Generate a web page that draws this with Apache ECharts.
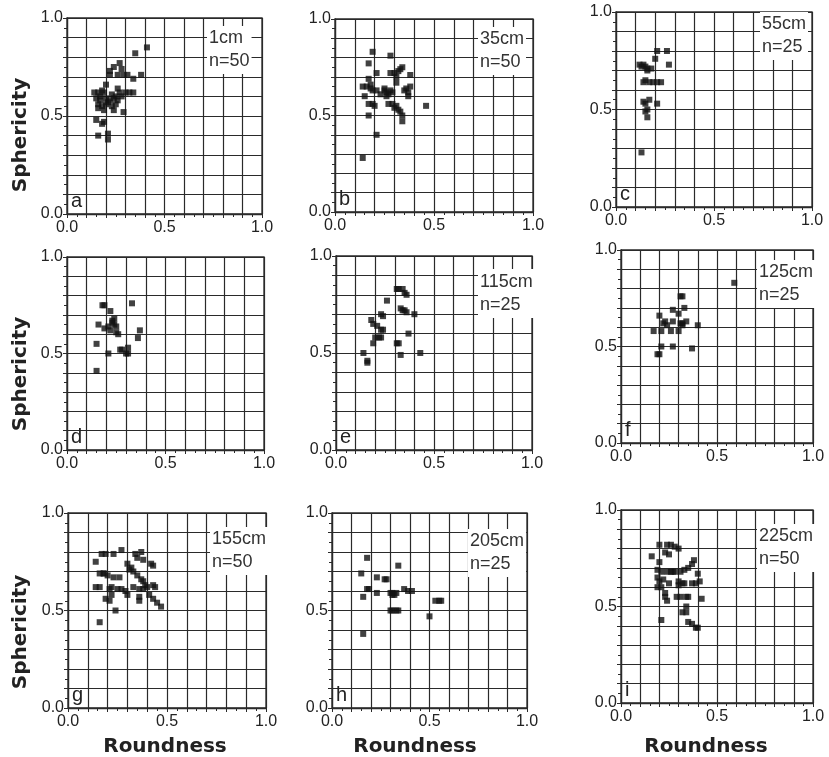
<!DOCTYPE html>
<html><head><meta charset="utf-8">
<script src="https://cdn.jsdelivr.net/npm/echarts@6/dist/echarts.min.js"></script>
<style>html,body{margin:0;padding:0;background:#fff}#c{width:829px;height:757px}</style>
</head><body><div id="c"></div>
<script>
// ---- data (roundness, sphericity) ----
const panelLetters = ['a','b','c','d','e','f','g','h','i'];
const depths = ['1cm','35cm','55cm','105cm','115cm','125cm','155cm','205cm','225cm'];
const counts = ['n=50','n=50','n=25','n=25','n=25','n=25','n=50','n=25','n=50'];
const tickLabels = ['0.0','0.5','1.0'];
const xName = 'Roundness';
const yName = 'Sphericity';

const ptsA = [[0.41,0.85],[0.35,0.82],[0.24,0.75],[0.27,0.77],[0.28,0.74],[0.22,0.71],[0.22,0.73],[0.26,0.71],[0.29,0.71],[0.31,0.71],[0.34,0.69],[0.38,0.71],[0.14,0.62],[0.16,0.62],[0.18,0.63],[0.19,0.62],[0.26,0.64],[0.27,0.62],[0.30,0.62],[0.32,0.62],[0.34,0.62],[0.15,0.59],[0.17,0.58],[0.20,0.59],[0.22,0.58],[0.24,0.59],[0.26,0.58],[0.16,0.56],[0.18,0.55],[0.20,0.56],[0.23,0.55],[0.25,0.56],[0.16,0.54],[0.19,0.53],[0.24,0.53],[0.29,0.52],[0.21,0.57],[0.17,0.60],[0.23,0.61],[0.25,0.60],[0.15,0.48],[0.19,0.47],[0.18,0.46],[0.16,0.40],[0.21,0.41],[0.21,0.38],[0.20,0.66],[0.28,0.60]];
const ptsB = [[0.19,0.83],[0.28,0.81],[0.17,0.77],[0.21,0.72],[0.17,0.69],[0.28,0.72],[0.30,0.72],[0.32,0.73],[0.33,0.74],[0.34,0.75],[0.31,0.67],[0.38,0.71],[0.31,0.70],[0.14,0.65],[0.16,0.65],[0.18,0.66],[0.19,0.63],[0.21,0.63],[0.18,0.64],[0.25,0.63],[0.26,0.62],[0.27,0.61],[0.28,0.63],[0.25,0.64],[0.26,0.60],[0.36,0.64],[0.38,0.65],[0.37,0.62],[0.37,0.60],[0.35,0.63],[0.17,0.56],[0.19,0.56],[0.20,0.55],[0.27,0.56],[0.29,0.56],[0.31,0.55],[0.32,0.53],[0.33,0.52],[0.30,0.54],[0.34,0.50],[0.17,0.50],[0.34,0.47],[0.21,0.40],[0.14,0.28],[0.46,0.55],[0.29,0.62],[0.23,0.61],[0.15,0.60]];
const ptsC = [[0.21,0.80],[0.26,0.80],[0.20,0.76],[0.27,0.73],[0.12,0.73],[0.14,0.73],[0.15,0.72],[0.16,0.71],[0.18,0.71],[0.13,0.72],[0.16,0.70],[0.14,0.64],[0.15,0.65],[0.19,0.64],[0.21,0.64],[0.23,0.64],[0.17,0.55],[0.14,0.54],[0.15,0.53],[0.21,0.53],[0.15,0.49],[0.16,0.50],[0.16,0.46],[0.13,0.28],[0.17,0.64]];
const ptsD = [[0.18,0.75],[0.19,0.75],[0.33,0.76],[0.22,0.72],[0.24,0.68],[0.23,0.66],[0.24,0.65],[0.25,0.64],[0.16,0.65],[0.19,0.63],[0.21,0.64],[0.25,0.61],[0.26,0.60],[0.37,0.62],[0.36,0.58],[0.15,0.55],[0.27,0.52],[0.28,0.52],[0.31,0.53],[0.21,0.50],[0.30,0.50],[0.31,0.50],[0.15,0.41],[0.22,0.62],[0.23,0.67]];
const ptsE = [[0.31,0.83],[0.32,0.83],[0.34,0.83],[0.35,0.81],[0.36,0.80],[0.26,0.77],[0.33,0.73],[0.34,0.72],[0.35,0.72],[0.36,0.71],[0.40,0.70],[0.23,0.70],[0.24,0.69],[0.18,0.67],[0.19,0.65],[0.21,0.64],[0.23,0.62],[0.24,0.62],[0.20,0.58],[0.22,0.58],[0.23,0.58],[0.19,0.55],[0.37,0.60],[0.31,0.55],[0.32,0.55],[0.14,0.50],[0.33,0.49],[0.43,0.50],[0.16,0.46],[0.16,0.45]];
const ptsF = [[0.59,0.83],[0.31,0.76],[0.32,0.76],[0.33,0.70],[0.27,0.69],[0.30,0.67],[0.20,0.66],[0.22,0.62],[0.23,0.63],[0.24,0.61],[0.27,0.63],[0.31,0.62],[0.32,0.62],[0.34,0.63],[0.32,0.61],[0.40,0.61],[0.17,0.58],[0.21,0.58],[0.26,0.58],[0.30,0.58],[0.21,0.50],[0.27,0.50],[0.19,0.46],[0.20,0.46],[0.37,0.49]];
const ptsG = [[0.27,0.81],[0.17,0.79],[0.19,0.79],[0.23,0.79],[0.14,0.75],[0.34,0.79],[0.37,0.80],[0.35,0.77],[0.38,0.76],[0.30,0.74],[0.32,0.72],[0.42,0.74],[0.43,0.73],[0.16,0.69],[0.18,0.69],[0.20,0.68],[0.23,0.67],[0.26,0.67],[0.33,0.70],[0.35,0.68],[0.37,0.66],[0.38,0.65],[0.14,0.62],[0.16,0.62],[0.22,0.62],[0.21,0.61],[0.27,0.61],[0.29,0.60],[0.33,0.62],[0.36,0.61],[0.38,0.61],[0.40,0.62],[0.43,0.63],[0.44,0.62],[0.19,0.56],[0.21,0.55],[0.22,0.58],[0.30,0.58],[0.36,0.57],[0.36,0.55],[0.41,0.58],[0.43,0.56],[0.45,0.54],[0.47,0.52],[0.24,0.50],[0.16,0.44],[0.18,0.69],[0.25,0.61],[0.39,0.63],[0.31,0.71]];
const ptsH = [[0.18,0.77],[0.15,0.69],[0.34,0.73],[0.23,0.67],[0.27,0.66],[0.28,0.66],[0.18,0.61],[0.19,0.61],[0.23,0.59],[0.16,0.57],[0.30,0.59],[0.31,0.59],[0.33,0.59],[0.32,0.58],[0.31,0.58],[0.37,0.61],[0.39,0.60],[0.41,0.60],[0.30,0.50],[0.31,0.50],[0.33,0.50],[0.34,0.50],[0.53,0.55],[0.55,0.55],[0.56,0.55],[0.50,0.47],[0.16,0.38]];
const ptsI = [[0.20,0.82],[0.24,0.82],[0.26,0.82],[0.28,0.81],[0.30,0.80],[0.16,0.76],[0.23,0.78],[0.25,0.77],[0.20,0.73],[0.19,0.69],[0.21,0.68],[0.24,0.68],[0.26,0.68],[0.28,0.68],[0.31,0.68],[0.33,0.69],[0.35,0.70],[0.37,0.72],[0.38,0.74],[0.40,0.67],[0.19,0.65],[0.20,0.63],[0.19,0.60],[0.21,0.60],[0.25,0.62],[0.30,0.63],[0.32,0.62],[0.33,0.62],[0.37,0.62],[0.39,0.62],[0.41,0.63],[0.30,0.61],[0.23,0.57],[0.23,0.55],[0.24,0.53],[0.29,0.55],[0.31,0.55],[0.34,0.55],[0.35,0.55],[0.42,0.54],[0.32,0.47],[0.34,0.47],[0.34,0.50],[0.35,0.42],[0.37,0.41],[0.39,0.39],[0.40,0.39],[0.21,0.43],[0.27,0.68],[0.22,0.64]];

const allPts = [ptsA,ptsB,ptsC,ptsD,ptsE,ptsF,ptsG,ptsH,ptsI];

// ---- layout ----
const boxes = [
  [67,18,195,196],[335,19,198,193],[616,12,196,195],
  [67,257,197,193],[336,256,196,194],[621,250,192,193],
  [68,513,198,195],[332,513,195,195],[621,510,192,193]
];
const noteX = [207,478,760,478,478,757,210,468,757];
const noteDY = [8,8,0,12,14,10,14,16,14];
const yNameY = [135,374,632];
const xNameX = [165,415,706];

const FONT = '"Liberation Sans", Arial, Helvetica, sans-serif';
const NAMEFONT = 'bold 20px "DejaVu Sans", Verdana, sans-serif';
const lineCol = '#2a2a2a';

const grids=[], xAxes=[], yAxes=[], series=[], graphics=[];
function fmt(v){const k=Math.round(v*10); return (k%5===0)? tickLabels[k/5] : '';}
boxes.forEach((b,i)=>{
  const [l,t,w,h]=b;
  grids.push({left:l,top:t,width:w,height:h,show:true,borderColor:lineCol,borderWidth:1.3,containLabel:false});
  xAxes.push({type:'value',gridIndex:i,min:0,max:1,interval:0.1,
    axisLine:{lineStyle:{color:lineCol,width:1.3}},
    axisTick:{show:true,length:4,lineStyle:{color:lineCol}},
    minorTick:{show:true,splitNumber:2,length:3,lineStyle:{color:lineCol}},
    splitLine:{show:true,lineStyle:{color:lineCol,width:1.2}},
    axisLabel:{formatter:fmt,fontFamily:FONT,fontSize:16,color:'#222',margin:6,showMinLabel:true,showMaxLabel:true}
  });
  yAxes.push({type:'value',gridIndex:i,min:0,max:1,interval:0.1,
    axisLine:{lineStyle:{color:lineCol,width:1.3}},
    axisTick:{show:true,length:4,lineStyle:{color:lineCol}},
    minorTick:{show:true,splitNumber:2,length:3,lineStyle:{color:lineCol}},
    splitLine:{show:true,lineStyle:{color:lineCol,width:1.2}},
    axisLabel:{formatter:fmt,fontFamily:FONT,fontSize:16,color:'#222',margin:4,showMinLabel:true,showMaxLabel:true}
  });
  series.push({type:'scatter',xAxisIndex:i,yAxisIndex:i,data:allPts[i],
    symbol:'rect',symbolSize:6,itemStyle:{color:'#111'},silent:true,z:5});
  graphics.push({type:'text',left:noteX[i],top:t+noteDY[i],z:10,
    style:{text:depths[i]+'\n'+counts[i],font:'18px '+FONT,fill:'#333',lineHeight:23,
      backgroundColor:'#fff',padding:[1,2,1,2]}});
  graphics.push({type:'text',left:l+4,top:t+h-23,z:10,
    style:{text:panelLetters[i],font:'20px '+FONT,fill:'#222'}});
});
yNameY.forEach(y=>{
  graphics.push({type:'text',x:21,y:y,rotation:Math.PI/2,z:10,
    style:{text:yName,font:NAMEFONT,fill:'#222',textAlign:'center',textVerticalAlign:'middle'}});
});
xNameX.forEach(x=>{
  graphics.push({type:'text',x:x,y:747,z:10,
    style:{text:xName,font:NAMEFONT,fill:'#222',textAlign:'center',textVerticalAlign:'middle'}});
});

const chart = echarts.init(document.getElementById('c'),null,{renderer:'canvas'});
chart.setOption({animation:false,backgroundColor:'#fff',grid:grids,xAxis:xAxes,yAxis:yAxes,series:series,graphic:graphics});
</script></body></html>
